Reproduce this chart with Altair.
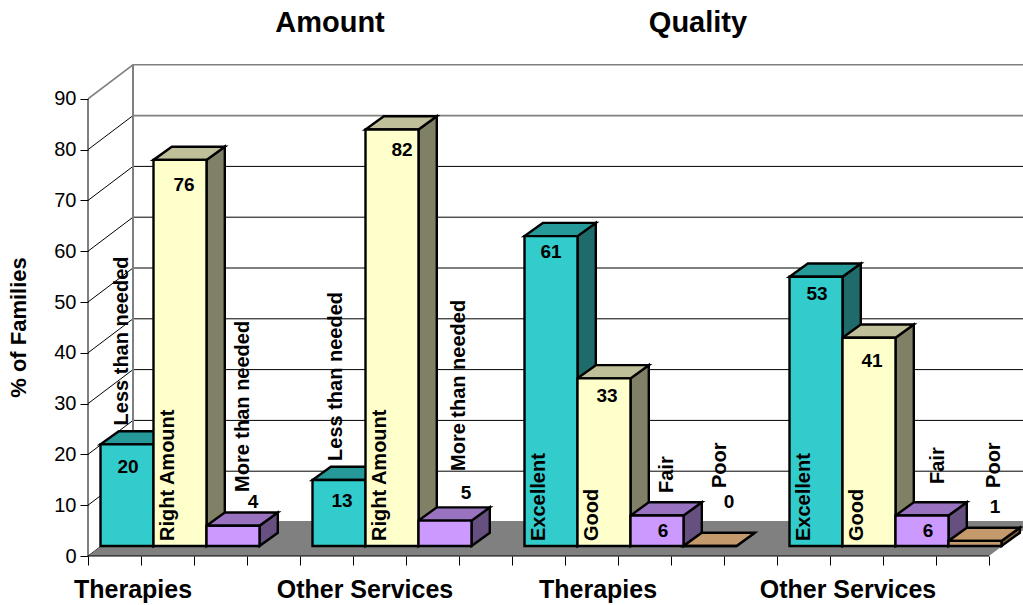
import altair as alt
import pandas as pd

# Survey results, one entry per bar
group_names = ["Therapies", "Other Services", "Therapies", "Other Services"]
section_names = ["Amount", "Quality"]
categories = [
    ["Less than needed", "Right Amount", "More than needed"],
    ["Less than needed", "Right Amount", "More than needed"],
    ["Excellent", "Good", "Fair", "Poor"],
    ["Excellent", "Good", "Fair", "Poor"],
]
percentages = [
    [20, 76, 4],
    [13, 82, 5],
    [61, 33, 6, 0],
    [53, 41, 6, 1],
]
y_ticks = list(range(0, 100, 10))

# Chart geometry: one x unit is a bar width, y is in percent
SLOT_PX = 53.0
UNIT_PX = 5.08
PLOT_W = 935
PLOT_H = 556
X_MAX = PLOT_W / SLOT_PX
Y_MAX = PLOT_H / UNIT_PX
SLOTS_TOTAL = 17
WALL_DX = 45 / SLOT_PX
WALL_DY = 34 / UNIT_PX
BAR_START_DX = 12.5 / SLOT_PX
BAR_BASE = 10 / UNIT_PX
BAR_DX = 18.3 / SLOT_PX
BAR_DY = 13.2 / UNIT_PX

group_starts = [0, 4, 8, 13]
group_label_px = [133, 365, 598, 848]
section_label_px = [330, 698]
SHADES = {
    "teal": ("#33CCCC", "#269999", "#1F6B6B"),
    "cream": ("#FFFFCC", "#BFBF99", "#808066"),
    "lilac": ("#CC99FF", "#9973BF", "#665080"),
    "tan": ("#C49A6C", "#C49A6C", "#80603C"),
}
tones = ["teal", "cream", "lilac", "tan"]

# Placement of the printed value and the rotated name, per bar, in pixels
# relative to the bar's front centre/top and its left edge/top.
value_nudge = [
    [(1, -23), (4, -25), (20, 24)],
    [(3, -21), (10, -21), (21, 28)],
    [(0, -16), (3, -18), (6, -15), (19, 44)],
    [(1, -17), (3, -23), (6, -15), (20, 34)],
]
name_nudge = [
    [(21.5, 19), None, (36.5, 33.7)],
    [(23.5, 19), None, (40, 49.6)],
    [None, None, (36, 22.5), (36, 58)],
    [None, None, (42, 31.5), (45.5, 53)],
]
NAME_INSIDE_DX = 14
NAME_INSIDE_LIFT = 5

fronts, sides, tops, values, names = [], [], [], [], []
bar_id = 0
for g, start in enumerate(group_starts):
    for i, (cat, pct) in enumerate(zip(categories[g], percentages[g])):
        tone = tones[i]
        left = start + i + BAR_START_DX
        right = left + 1
        top = BAR_BASE + pct
        fronts.append(dict(x=left, x2=right, y=BAR_BASE, y2=top, face=tone + "-front"))
        sides += [
            dict(bar=bar_id, x=right, y=BAR_BASE, y2=top, face=tone + "-side"),
            dict(bar=bar_id, x=right + BAR_DX, y=BAR_BASE + BAR_DY, y2=top + BAR_DY, face=tone + "-side"),
        ]
        tops += [
            dict(bar=bar_id, y=top, x=left, x2=right, face=tone + "-top"),
            dict(bar=bar_id, y=top + BAR_DY, x=left + BAR_DX, x2=right + BAR_DX, face=tone + "-top"),
        ]
        dx, dy = value_nudge[g][i]
        values.append(dict(x=left + 0.5 + dx / SLOT_PX, y=top + dy / UNIT_PX, text=str(pct)))
        nudge = name_nudge[g][i]
        if nudge is None:
            names.append(dict(x=left + NAME_INSIDE_DX / SLOT_PX,
                              y=BAR_BASE + NAME_INSIDE_LIFT / UNIT_PX, text=cat))
        else:
            names.append(dict(x=left + nudge[0] / SLOT_PX, y=top + nudge[1] / UNIT_PX, text=cat))
        bar_id += 1

grid_rows = []
for v in y_ticks:
    grid_rows += [
        dict(tick=v, step=0, x=0, y=v),
        dict(tick=v, step=1, x=WALL_DX, y=v + WALL_DY),
        dict(tick=v, step=2, x=X_MAX, y=v + WALL_DY),
    ]
grid = pd.DataFrame(grid_rows)
# The two top back-wall lines are drawn grey, everything below them black
is_grey = (grid.tick == 90) | ((grid.tick == 80) & (grid.step >= 1))
is_black = (grid.tick < 80) | ((grid.tick == 80) & (grid.step <= 1))
upper = grid[is_grey]
lower = grid[is_black]

floor = pd.DataFrame([
    dict(y=0, x=0, x2=SLOTS_TOTAL),
    dict(y=WALL_DY, x=WALL_DX, x2=SLOTS_TOTAL + WALL_DX),
])
back_edge = pd.DataFrame([dict(x=WALL_DX, y=WALL_DY), dict(x=WALL_DX, y=90 + WALL_DY)])
front_edge = pd.DataFrame([dict(x=0, y=0), dict(x=0, y=90)])
base_edge = pd.DataFrame([dict(x=0, y=0), dict(x=SLOTS_TOTAL, y=0)])

group_labels = pd.DataFrame(dict(
    x=[(p - 88) / SLOT_PX for p in group_label_px],
    y=[(PLOT_H - 590) / UNIT_PX] * 4,
    text=group_names,
))
section_labels = pd.DataFrame(dict(
    x=[(p - 88) / SLOT_PX for p in section_label_px],
    y=[(PLOT_H - 23) / UNIT_PX] * 2,
    text=section_names,
))

FONT = "Liberation Sans"

x_scale = alt.Scale(domain=[0, X_MAX], nice=False, zero=False)
y_scale = alt.Scale(domain=[0, Y_MAX], nice=False, zero=False)
x_axis = alt.Axis(
    values=list(range(0, SLOTS_TOTAL + 1)), labels=False, domain=False, grid=False,
    title=None, tickSize=9, tickColor="black", tickWidth=1)
y_axis = alt.Axis(
    values=y_ticks, domain=False, grid=False, title="% of Families",
    titleFont=FONT, titleFontSize=22, titleFontWeight="bold", titleColor="black",
    titleX=-58, titleY=327, titleAnchor="middle", titleAlign="center",
    labelFont=FONT, labelFontSize=20, labelColor="black", labelPadding=4,
    tickSize=8, tickColor="black", tickWidth=1)
X = alt.X("x:Q", scale=x_scale, axis=x_axis)
Y = alt.Y("y:Q", scale=y_scale, axis=y_axis)

face_keys, face_colors = [], []
for tone, shades in SHADES.items():
    for part, shade in zip(["front", "top", "side"], shades):
        face_keys.append(f"{tone}-{part}")
        face_colors.append(shade)
FACE = alt.Color("face:N", scale=alt.Scale(domain=face_keys, range=face_colors), legend=None)

floor_layer = alt.Chart(floor).mark_area(orient="horizontal", color="#808080", clip=True).encode(
    y=Y, x=X, x2="x2:Q")
grid_low = alt.Chart(lower).mark_line(color="black", strokeWidth=1, clip=True).encode(
    x=X, y=Y, detail="tick:N", order="step:Q")
grid_high = alt.Chart(upper).mark_line(color="#808080", strokeWidth=1.6, clip=True).encode(
    x=X, y=Y, detail="tick:N", order="step:Q")
back_line = alt.Chart(back_edge).mark_line(color="#808080", strokeWidth=2).encode(x=X, y=Y)
front_line = alt.Chart(front_edge).mark_line(color="black", strokeWidth=1).encode(x=X, y=Y)
base_line = alt.Chart(base_edge).mark_line(color="black", strokeWidth=1).encode(x=X, y=Y)

side_layer = alt.Chart(pd.DataFrame(sides)).mark_area(stroke="black", strokeWidth=2.4).encode(
    x=X, y=Y, y2="y2:Q", color=FACE, detail="bar:N")
top_layer = alt.Chart(pd.DataFrame(tops)).mark_area(
    orient="horizontal", stroke="black", strokeWidth=2.4).encode(
    y=Y, x=X, x2="x2:Q", color=FACE, detail="bar:N")
front_layer = alt.Chart(pd.DataFrame(fronts)).mark_rect(stroke="black", strokeWidth=2.4).encode(
    x=X, x2="x2:Q", y=Y, y2="y2:Q", color=FACE)

value_text = alt.Chart(pd.DataFrame(values)).mark_text(
    font=FONT, fontSize=19, fontWeight="bold", color="black").encode(x=X, y=Y, text="text:N")
name_text = alt.Chart(pd.DataFrame(names)).mark_text(
    font=FONT, fontSize=20, fontWeight="bold", color="black",
    angle=270, align="left", baseline="middle").encode(x=X, y=Y, text="text:N")
group_text = alt.Chart(group_labels).mark_text(
    font=FONT, fontSize=25, fontWeight="bold", color="black").encode(x=X, y=Y, text="text:N")
section_text = alt.Chart(section_labels).mark_text(
    font=FONT, fontSize=29, fontWeight="bold", color="black").encode(x=X, y=Y, text="text:N")

chart = alt.layer(
    grid_low, grid_high, floor_layer, back_line, front_line, base_line,
    side_layer, top_layer, front_layer,
    value_text, name_text, group_text, section_text,
).properties(
    width=PLOT_W,
    height=PLOT_H,
    padding={"left": 88, "top": 0, "right": 0, "bottom": 49},
    autosize=alt.AutoSizeParams(type="none"),
).configure_view(stroke=None)

chart.save("out.html", embed_options={"renderer": "svg", "actions": False})
